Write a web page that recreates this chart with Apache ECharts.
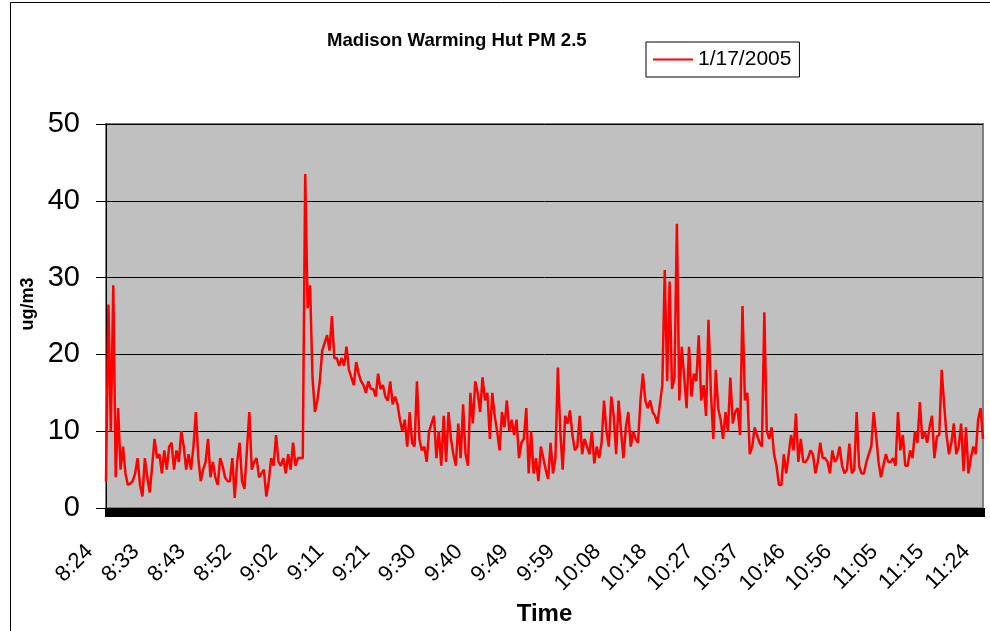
<!DOCTYPE html>
<html>
<head>
<meta charset="utf-8">
<script src="https://cdn.jsdelivr.net/npm/echarts@6/dist/echarts.min.js"></script>
<style>
html,body{margin:0;padding:0;background:#fff;}
#chart{width:990px;height:631px;}
</style>
</head>
<body>
<div id="chart"></div>
<script>
// PM 2.5 readings (ug/m3), one value every 30 seconds starting 8:24:00
const pm25_a = [3.5,26.5,10,29,4,13,5,8,4.5,3,3.2,3.5,4.5,6.5,3,1.5,6.5,4,2,5.5,9,6.5,7,4.5,7.5,5,8,8.5,5,7.5,6,10,8,5,7,5,8,12.5,6.5,3.5,5,6,9,4,6];
const pm25_b = [4,3,6.5,5.5,4,3.5,3.5,6.5,1.3,6,8.5,3.5,2.5,7.5,12.5,5,6,6.5,4,4.5,5,1.5,3.5,6.5,5.5,9.5,6,5.5,6.5,4.5,7,5,8.5,5.5,6.5,6.5,6.5,43.5,26,29,17,12.5,14,16.5,20.5,21.5];
const pm25_c = [22.5,20.5,25,19.5,19.5,18.5,19.5,18.5,21,18,17,16,19,17.5,16.5,16,15,16.5,15.5,15.5,14.5,17.5,15.5,16,14.5,14,16.5,13.5,14.5,13.5,11.5,10,11.5,8,12.5,8.5,8,16.5,9,7.5,8,6,10,11,12];
const pm25_d = [6.5,10,5.5,12,6,12.5,9,7,5.5,11,6.5,13.5,7,5.5,15,11,16.5,15,12.5,17,14,15,9,15,12,10,7.5,12.5,10.5,14,10,11.5,9.5,11.5,6.5,8.5,9,13,4.5,10,4.5,6.5,3.5,8,6.5];
const pm25_e = [5,3.8,8.5,4.5,6.5,18.3,10,5,12,11,12.7,9.5,7.5,8,12,7,9,8,7,10,5.8,8,6.5,8.5,14,10,8,14.5,12,7,14,10,6.5,10.5,12.5,8,10,9,8.5,14,17.5,14,13,14,12.5];
const pm25_f = [12,11,13.5,16,31,16.5,29.5,15.5,17,37,14,21,17,13,21,14.5,17.5,16.5,22.5,14,16,12,24.5,15,9,18,13,11.5,9,12.5,10,17,11,12.5,13,9.5,26.3,14,15,7,8,10.5,9.5,8.5,8,25.5];
const pm25_g = [10,9,10.5,7,5.5,3,3,7,4.5,7,9.5,7.5,12.3,6,9,6,6,6.5,7.5,7,4.5,6,8.5,6.5,6.5,6,4.5,7.5,6,6.5,8,5.5,4.5,5,8.4,4.5,5,12.5,5.5,4.5,4.5,6,7,8,12.5];
const pm25_h = [9.5,6,4,5.5,7,6,6,6.5,5.5,12.5,7.5,9.5,5.5,5.5,7.5,6.5,10,8.5,13.8,9,10,8.5,10.5,12,6.5,9.3,9.5,18,13.5,9.5,7,8.5,11,7,8,11,4.8,10.5,4.5,6.5,8,7,11.5,13,9];

const tickLabels = ['8:24','8:33','8:43','8:52','9:02','9:11','9:21','9:30','9:40','9:49','9:59','10:08','10:18','10:27','10:37','10:46','10:56','11:05','11:15','11:24'];
const yTicks = [0,10,20,30,40,50];
const seriesName = '1/17/2005';
const chartTitle = 'Madison Warming Hut PM 2.5';

const values = [].concat(pm25_a, pm25_b, pm25_c, pm25_d, pm25_e, pm25_f, pm25_g, pm25_h);
const startSec = (8 * 60 + 24) * 60, stepSec = 30;
const categories = values.map(function (v, i) {
  const t = startSec + i * stepSec;
  const h = Math.floor(t / 3600), m = Math.floor((t % 3600) / 60), s = t % 60;
  return h + ':' + String(m).padStart(2, '0') + ':' + String(s).padStart(2, '0');
});
const labelEvery = 19;

const FONT = '"Liberation Sans", Arial, sans-serif';
const chart = echarts.init(document.getElementById('chart'), null, {renderer: 'canvas'});
chart.setOption({
  backgroundColor: '#ffffff',
  animation: false,
  textStyle: {fontFamily: FONT, color: '#000'},
  title: {
    text: chartTitle,
    left: 327, top: 31, padding: 0,
    textStyle: {fontFamily: FONT, fontSize: 18.6, fontWeight: 'bold', color: '#000'}
  },
  legend: {
    data: [{name: seriesName, icon: 'rect'}],
    left: 646, top: 42,
    padding: [7, 8, 7, 7],
    borderColor: '#000', borderWidth: 1,
    itemWidth: 40, itemHeight: 2,
    itemStyle: {color: '#FF0000'},
    textStyle: {fontFamily: FONT, fontSize: 21, color: '#000'}
  },
  graphic: [{
    type: 'rect', silent: true, z: -1,
    shape: {x: 10.5, y: 2.5, width: 1000, height: 700},
    style: {fill: 'none', stroke: '#000', lineWidth: 1}
  }],
  grid: {
    left: 106, right: 7, top: 124, bottom: 119,
    show: true, backgroundColor: '#C0C0C0', borderColor: '#808080', borderWidth: 2
  },
  xAxis: {
    type: 'category',
    data: categories,
    boundaryGap: false,
    name: 'Time', nameLocation: 'middle', nameGap: 84,
    nameTextStyle: {fontFamily: FONT, fontSize: 24, fontWeight: 'bold', color: '#000'},
    axisLine: {lineStyle: {color: '#000', width: 1}},
    axisTick: {show: true, interval: 0, length: 9, inside: false, lineStyle: {color: '#000', width: 3}},
    axisLabel: {
      interval: labelEvery - 1, rotate: 45, margin: 24, padding: [0, 23, 0, 0],
      fontFamily: FONT, fontSize: 22, color: '#000',
      formatter: function (val, idx) { return tickLabels[Math.round(idx / labelEvery)]; }
    },
    splitLine: {show: false}
  },
  yAxis: {
    type: 'value',
    min: yTicks[0], max: yTicks[yTicks.length - 1], interval: 10,
    name: 'ug/m3', nameLocation: 'middle', nameRotate: 90, nameGap: 56,
    nameTextStyle: {fontFamily: FONT, fontSize: 18, fontWeight: 'bold', color: '#000', padding: [0, 0, 0, 24]},
    axisLine: {show: true, lineStyle: {color: '#000', width: 1}},
    axisTick: {show: true, length: 10, lineStyle: {color: '#000'}},
    axisLabel: {margin: 26, fontFamily: FONT, fontSize: 29, color: '#000'},
    splitLine: {show: true, lineStyle: {color: '#000', width: 1}}
  },
  series: [{
    name: seriesName,
    type: 'line',
    data: values,
    symbol: 'none',
    lineStyle: {color: '#FF0000', width: 2.5},
    itemStyle: {color: '#FF0000'}
  }]
});
</script>
</body>
</html>
